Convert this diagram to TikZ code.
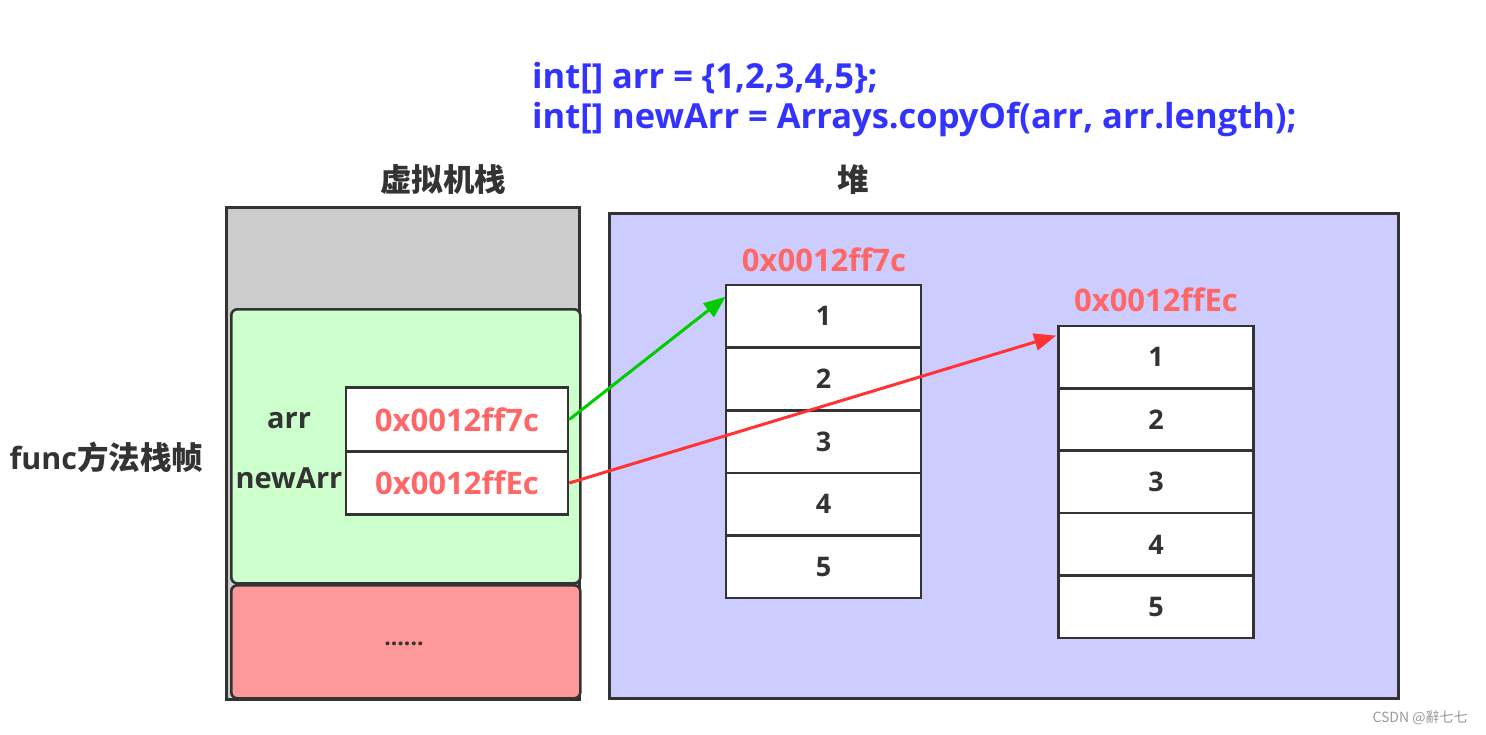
\documentclass[tikz,border=0pt]{standalone}
\usepackage{fontspec}
\setmainfont{Open Sans}
\newfontfamily\cjk{Noto Sans CJK SC}
\usetikzlibrary{arrows.meta,calc}
\definecolor{ink}{HTML}{333333}
\definecolor{codeblue}{HTML}{3333FF}
\definecolor{addrred}{HTML}{FF6666}
\definecolor{stackgray}{HTML}{CCCCCC}
\definecolor{framegreen}{HTML}{CCFFCC}
\definecolor{framered}{HTML}{FF9999}
\definecolor{heapblue}{HTML}{CCCCFF}
\definecolor{arrgreen}{HTML}{00CC00}
\definecolor{arrred}{HTML}{FF3333}
\begin{document}
\begin{tikzpicture}[x=1pt,y=-1pt,
  box/.style={draw=ink, line width=2.6pt, inner sep=0pt, anchor=north west},
  cell/.style={draw=ink, line width=2.6pt, fill=white, inner sep=0pt,
    minimum width=195pt, minimum height=62.6pt, text=ink,
    font=\bfseries\fontsize{27}{30}\selectfont},
  addr/.style={draw=ink, line width=2.6pt, fill=white, inner sep=0pt,
    minimum width=222pt, minimum height=63.5pt, text=addrred,
    font=\bfseries\fontsize{31}{34}\selectfont},
  addrlabel/.style={text=addrred, font=\bfseries\fontsize{31}{34}\selectfont},
  code/.style={text=codeblue, anchor=base west, inner sep=0pt, font=\bfseries\fontsize{34.5}{38}\selectfont},
  title/.style={text=ink, font=\cjk\bfseries\fontsize{31.5}{34}\selectfont},
  varlabel/.style={text=ink, font=\bfseries\fontsize{29}{32}\selectfont},
  ptr/.style={line width=3pt, -{Triangle[length=22pt,width=17pt]}},
]
\useasboundingbox (0,0) rectangle (1486,734);

% code
\node[code] (code1) at (532,88) {int[] arr = \{1,2,3,4,5\};};
\node[code] (code2) at (532,128) {int[] newArr = Arrays.copyOf(arr, arr.length);};

% titles
\node[title] (stacktitle) at (443,180) {虚拟机栈};
\node[title] (heaptitle) at (853,180) {堆};

% stack
\node[box, fill=stackgray, minimum width=353pt, minimum height=492pt] (stack) at (225,206) {};
\node[box, fill=framegreen, rounded corners=6pt, minimum width=349pt, minimum height=274pt] (frame) at (230,308) {};
\node[box, fill=framered, rounded corners=6pt, minimum width=349pt, minimum height=113pt] (rest) at (230,584) {};
\node[text=ink, font=\bfseries\fontsize{23}{26}\selectfont] (dots) at (404,644) {......};

\node[anchor=west, text=ink, font=\bfseries\fontsize{30.5}{34}\selectfont] (funclabel) at (6,457) {func{\cjk\fontsize{31.5}{34}\selectfont 方法栈帧}};

\node[addr] (p1) at (457,419.5) {0x0012ff7c};
\node[addr] (p2) at (457,483) {0x0012ffEc};
\node[varlabel] (v1) at (289,421) {arr};
\node[varlabel] (v2) at (289,478) {newArr};

% heap
\node[box, fill=heapblue, minimum width=789pt, minimum height=485pt] (heap) at (608,212) {};

\node[addrlabel] (h1) at (824,260) {0x0012ff7c};
\node[addrlabel] (h2) at (1156,300) {0x0012ffEc};

\foreach \i in {1,...,5} {
  \node[cell] (a\i) at (823.5,{285+62.6*(\i-0.5)}) {\i};
  \node[cell] (b\i) at (1156,{326+62.4*(\i-0.5)}) {\i};
}

% pointers
\draw[ptr, draw=arrgreen, fill=arrgreen] (p1.east) -- ($(a1.north west)+(1,13)$);
\draw[ptr, draw=arrred, fill=arrred] (p2.east) -- ($(b1.north west)+(-1,11)$);

% watermark
\node[text=gray!80, font=\cjk\fontsize{14}{16}\selectfont] (wm) at (1420,718) {CSDN @辭七七};
\end{tikzpicture}
\end{document}
